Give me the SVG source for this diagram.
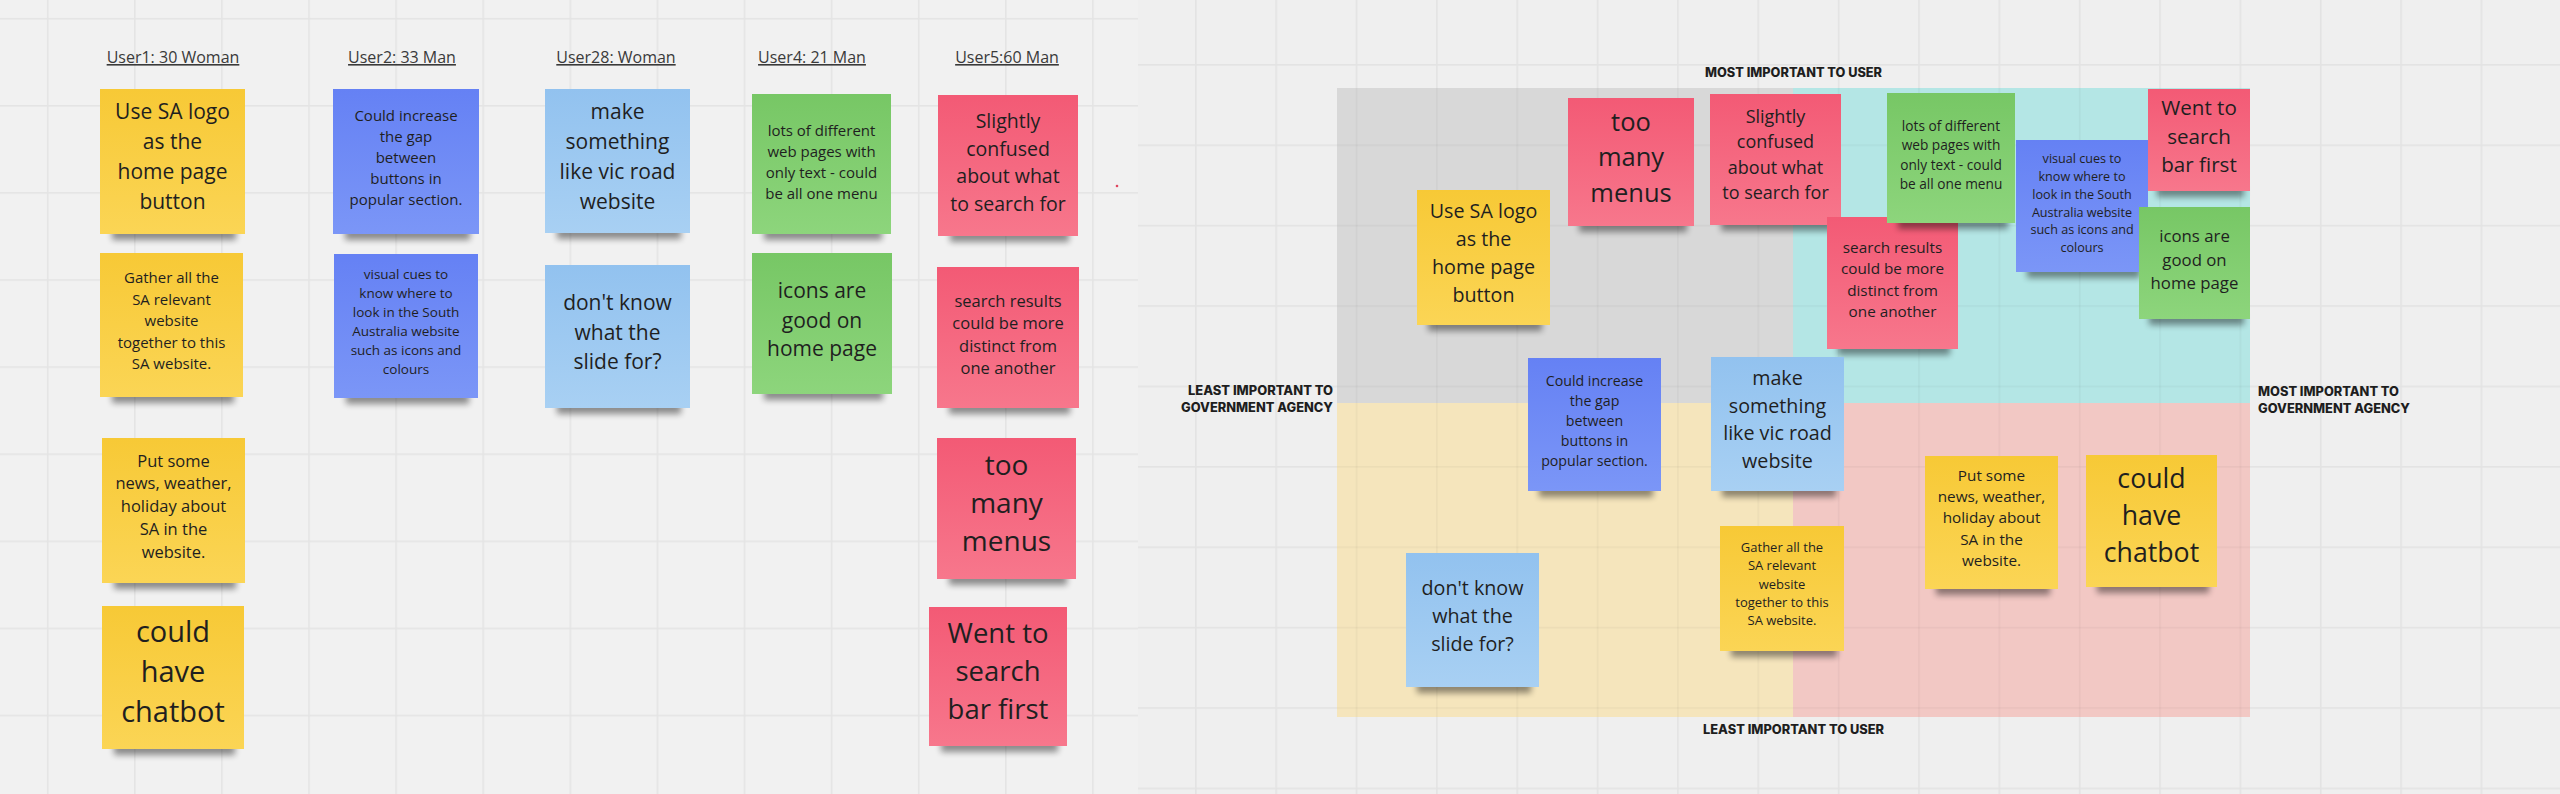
<svg xmlns="http://www.w3.org/2000/svg" width="2560" height="794" viewBox="0 0 2560 794">
<defs>
<style>
.h{font-family:"Open Sans","Liberation Sans",sans-serif;font-size:16px;fill:#3a3a3a;text-anchor:middle;text-decoration:underline}
.t{font-family:"Open Sans","Liberation Sans",sans-serif;fill:#1f1f1f;text-anchor:middle}
.ax{font-family:Inter,"Liberation Sans",sans-serif;font-weight:800;font-size:12.5px;fill:#1e1e1e}
.sh{fill:#000;opacity:.42;filter:url(#blur)}
.y{fill:url(#gy)}.b{fill:url(#gb)}.lb{fill:url(#glb)}.g{fill:url(#gg)}.r{fill:url(#gr)}
</style>
<filter id="blur" x="-20%" y="-100%" width="140%" height="300%"><feGaussianBlur stdDeviation="3"/></filter>
<linearGradient id="gy" x1="0" y1="0" x2="0" y2="1"><stop offset="0" stop-color="#f7c936"/><stop offset="1" stop-color="#fbd555"/></linearGradient>
<linearGradient id="gb" x1="0" y1="0" x2="0" y2="1"><stop offset="0" stop-color="#6581f4"/><stop offset="1" stop-color="#7b96f7"/></linearGradient>
<linearGradient id="glb" x1="0" y1="0" x2="0" y2="1"><stop offset="0" stop-color="#92c2ef"/><stop offset="1" stop-color="#a8d0f3"/></linearGradient>
<linearGradient id="gg" x1="0" y1="0" x2="0" y2="1"><stop offset="0" stop-color="#77c765"/><stop offset="1" stop-color="#8dd57c"/></linearGradient>
<linearGradient id="gr" x1="0" y1="0" x2="0" y2="1"><stop offset="0" stop-color="#f35a75"/><stop offset="1" stop-color="#f7778c"/></linearGradient>
<pattern id="gl" patternUnits="userSpaceOnUse" x="46.9" y="17.9" width="87.1" height="87.1"><rect width="87.1" height="87.1" fill="#f1f1f1"/><rect width="1.6" height="87.1" fill="#e4e4e4"/><rect width="87.1" height="1.6" fill="#e4e4e4"/></pattern>
<pattern id="gr2" patternUnits="userSpaceOnUse" x="1195" y="64" width="80.35" height="80.4"><rect width="80.35" height="80.4" fill="#efefef"/><rect width="1.6" height="80.4" fill="#e3e3e3"/><rect width="80.35" height="1.6" fill="#e3e3e3"/></pattern>
<pattern id="gq" patternUnits="userSpaceOnUse" x="1195" y="64" width="80.35" height="80.4"><rect width="1.6" height="80.4" fill="#000" fill-opacity="0.035"/><rect width="80.35" height="1.6" fill="#000" fill-opacity="0.035"/></pattern>
</defs>

<rect id="bg-left" x="0" y="0" width="1138" height="794" fill="url(#gl)"/>
<rect id="bg-right" x="1138" y="0" width="1422" height="794" fill="url(#gr2)"/>
<circle cx="1117" cy="186" r="1.3" fill="#e0455e"/>

<g id="headings">
<text class="h" x="173" y="63">User1: 30 Woman</text>
<text class="h" x="402" y="63">User2: 33 Man</text>
<text class="h" x="616" y="63">User28: Woman</text>
<text class="h" x="812" y="63">User4: 21 Man</text>
<text class="h" x="1007" y="63">User5:60 Man</text>
</g>

<g id="quadrants">
<rect x="1337" y="88" width="456" height="315" fill="#d8d8d8"/>
<rect x="1793" y="88" width="457" height="315" fill="#b4e6e5"/>
<rect x="1337" y="403" width="456" height="314" fill="#f5e5bc"/>
<rect x="1793" y="403" width="457" height="314" fill="#f2c8c4"/>
<rect x="1337" y="88" width="913" height="629" fill="url(#gq)"/>
</g>

<g id="axis-labels">
<text class="ax" x="1705" y="77" textLength="177" lengthAdjust="spacingAndGlyphs">MOST IMPORTANT TO USER</text>
<text class="ax" x="1703" y="734" textLength="181" lengthAdjust="spacingAndGlyphs">LEAST IMPORTANT TO USER</text>
<text class="ax" x="1188" y="395" textLength="145" lengthAdjust="spacingAndGlyphs">LEAST IMPORTANT TO</text>
<text class="ax" x="1181" y="412" textLength="152" lengthAdjust="spacingAndGlyphs">GOVERNMENT AGENCY</text>
<text class="ax" x="2258" y="396" textLength="141" lengthAdjust="spacingAndGlyphs">MOST IMPORTANT TO</text>
<text class="ax" x="2258" y="413" textLength="152" lengthAdjust="spacingAndGlyphs">GOVERNMENT AGENCY</text>
</g>

<g id="connectors"></g>

<!-- Left: user columns -->
<g id="l1-use-sa-logo"><rect class="sh" x="112" y="228" width="124" height="12"/><rect class="y" x="100" y="89" width="145" height="145"/>
<text class="t" font-size="21"><tspan x="172.5" y="119">Use SA logo</tspan><tspan x="172.5" y="149">as the</tspan><tspan x="172.5" y="179">home page</tspan><tspan x="172.5" y="209">button</tspan></text></g>
<g id="l2-gather"><rect class="sh" x="112" y="391" width="122" height="12"/><rect class="y" x="100" y="253" width="143" height="144"/>
<text class="t" font-size="15"><tspan x="171.5" y="283">Gather all the</tspan><tspan x="171.5" y="304.5">SA relevant</tspan><tspan x="171.5" y="326">website</tspan><tspan x="171.5" y="347.5">together to this</tspan><tspan x="171.5" y="369">SA website.</tspan></text></g>
<g id="l3-put-some-news"><rect class="sh" x="114" y="577" width="122" height="12"/><rect class="y" x="102" y="438" width="143" height="145"/>
<text class="t" font-size="16.5"><tspan x="173.5" y="466.5">Put some</tspan><tspan x="173.5" y="489.4">news, weather,</tspan><tspan x="173.5" y="512.3">holiday about</tspan><tspan x="173.5" y="535.2">SA in the</tspan><tspan x="173.5" y="558">website.</tspan></text></g>
<g id="l4-chatbot"><rect class="sh" x="114" y="743" width="121" height="12"/><rect class="y" x="102" y="606" width="142" height="143"/>
<text class="t" font-size="29"><tspan x="173" y="641.5">could</tspan><tspan x="173" y="681.8">have</tspan><tspan x="173" y="722">chatbot</tspan></text></g>

<g id="l5-could-increase"><rect class="sh" x="345" y="228" width="125" height="12"/><rect class="b" x="333" y="89" width="146" height="145"/>
<text class="t" font-size="15"><tspan x="406" y="121">Could increase</tspan><tspan x="406" y="142">the gap</tspan><tspan x="406" y="163">between</tspan><tspan x="406" y="184">buttons in</tspan><tspan x="406" y="205">popular section.</tspan></text></g>
<g id="l6-visual-cues"><rect class="sh" x="346" y="392" width="123" height="12"/><rect class="b" x="334" y="254" width="144" height="144"/>
<text class="t" font-size="13.5"><tspan x="406" y="279">visual cues to</tspan><tspan x="406" y="298">know where to</tspan><tspan x="406" y="317">look in the South</tspan><tspan x="406" y="336">Australia website</tspan><tspan x="406" y="355">such as icons and</tspan><tspan x="406" y="374">colours</tspan></text></g>

<g id="l7-make-something"><rect class="sh" x="557" y="227" width="124" height="12"/><rect class="lb" x="545" y="89" width="145" height="144"/>
<text class="t" font-size="21"><tspan x="617.5" y="118.5">make</tspan><tspan x="617.5" y="148.5">something</tspan><tspan x="617.5" y="178.5">like vic road</tspan><tspan x="617.5" y="208.5">website</tspan></text></g>
<g id="l8-dont-know"><rect class="sh" x="557" y="402" width="124" height="12"/><rect class="lb" x="545" y="265" width="145" height="143"/>
<text class="t" font-size="21"><tspan x="617.5" y="310">don't know</tspan><tspan x="617.5" y="340">what the</tspan><tspan x="617.5" y="369">slide for?</tspan></text></g>

<g id="l9-lots-of-pages"><rect class="sh" x="764" y="228" width="118" height="12"/><rect class="g" x="752" y="94" width="139" height="140"/>
<text class="t" font-size="15"><tspan x="821.5" y="135.5">lots of different</tspan><tspan x="821.5" y="156.5">web pages with</tspan><tspan x="821.5" y="177.5">only text - could</tspan><tspan x="821.5" y="198.5">be all one menu</tspan></text></g>
<g id="l10-icons-good"><rect class="sh" x="764" y="388" width="119" height="12"/><rect class="g" x="752" y="253" width="140" height="141"/>
<text class="t" font-size="21"><tspan x="822" y="298">icons are</tspan><tspan x="822" y="327.5">good on</tspan><tspan x="822" y="356">home page</tspan></text></g>

<g id="l11-slightly-confused"><rect class="sh" x="950" y="230" width="119" height="12"/><rect class="r" x="938" y="95" width="140" height="141"/>
<text class="t" font-size="19.5"><tspan x="1008" y="128">Slightly</tspan><tspan x="1008" y="155.5">confused</tspan><tspan x="1008" y="183">about what</tspan><tspan x="1008" y="210.5">to search for</tspan></text></g>
<g id="l12-search-results"><rect class="sh" x="949" y="402" width="121" height="12"/><rect class="r" x="937" y="267" width="142" height="141"/>
<text class="t" font-size="16.5"><tspan x="1008" y="306.5">search results</tspan><tspan x="1008" y="329">could be more</tspan><tspan x="1008" y="351.5">distinct from</tspan><tspan x="1008" y="374">one another</tspan></text></g>
<g id="l13-too-many-menus"><rect class="sh" x="949" y="573" width="118" height="12"/><rect class="r" x="937" y="438" width="139" height="141"/>
<text class="t" font-size="28"><tspan x="1006.5" y="475">too</tspan><tspan x="1006.5" y="513">many</tspan><tspan x="1006.5" y="551">menus</tspan></text></g>
<g id="l14-went-to-search"><rect class="sh" x="941" y="740" width="117" height="12"/><rect class="r" x="929" y="607" width="138" height="139"/>
<text class="t" font-size="27.5"><tspan x="998" y="643">Went to</tspan><tspan x="998" y="681">search</tspan><tspan x="998" y="719">bar first</tspan></text></g>

<!-- Right: prioritisation matrix -->
<g id="r1-use-sa-logo"><rect class="sh" x="1428" y="319" width="114" height="12"/><rect class="y" x="1417" y="190" width="133" height="135"/>
<text class="t" font-size="19.7"><tspan x="1483.5" y="218">Use SA logo</tspan><tspan x="1483.5" y="246">as the</tspan><tspan x="1483.5" y="274">home page</tspan><tspan x="1483.5" y="301.5">button</tspan></text></g>
<g id="r2-too-many-menus"><rect class="sh" x="1579" y="220" width="108" height="12"/><rect class="r" x="1568" y="98" width="126" height="128"/>
<text class="t" font-size="25.5"><tspan x="1631" y="130.5">too</tspan><tspan x="1631" y="166">many</tspan><tspan x="1631" y="201.5">menus</tspan></text></g>
<g id="r3-slightly-confused"><rect class="sh" x="1721" y="219" width="112" height="12"/><rect class="r" x="1710" y="94" width="131" height="131"/>
<text class="t" font-size="18"><tspan x="1775.5" y="122.5">Slightly</tspan><tspan x="1775.5" y="148">confused</tspan><tspan x="1775.5" y="173.5">about what</tspan><tspan x="1775.5" y="199">to search for</tspan></text></g>
<g id="r8-search-results"><rect class="sh" x="1838" y="343" width="112" height="12"/><rect class="r" x="1827" y="217" width="131" height="132"/>
<text class="t" font-size="15.3"><tspan x="1892.5" y="252.5">search results</tspan><tspan x="1892.5" y="274">could be more</tspan><tspan x="1892.5" y="295.5">distinct from</tspan><tspan x="1892.5" y="317">one another</tspan></text></g>
<g id="r4-lots-of-pages"><rect class="sh" x="1898" y="217" width="110" height="12"/><rect class="g" x="1887" y="93" width="128" height="130"/>
<text class="t" font-size="13.7"><tspan x="1951" y="130.5">lots of different</tspan><tspan x="1951" y="150">web pages with</tspan><tspan x="1951" y="169.5">only text - could</tspan><tspan x="1951" y="189">be all one menu</tspan></text></g>
<g id="r5-visual-cues"><rect class="sh" x="2027" y="266" width="113" height="12"/><rect class="b" x="2016" y="140" width="132" height="132"/>
<text class="t" font-size="12.6"><tspan x="2082" y="162.5">visual cues to</tspan><tspan x="2082" y="180.5">know where to</tspan><tspan x="2082" y="198.5">look in the South</tspan><tspan x="2082" y="216.5">Australia website</tspan><tspan x="2082" y="234">such as icons and</tspan><tspan x="2082" y="252">colours</tspan></text></g>
<g id="r6-went-to-search"><rect class="sh" x="2157" y="185" width="87" height="12"/><rect class="r" x="2148" y="89" width="102" height="102"/>
<text class="t" font-size="20.6"><tspan x="2199" y="115">Went to</tspan><tspan x="2199" y="143.5">search</tspan><tspan x="2199" y="172">bar first</tspan></text></g>
<g id="r7-icons-good"><rect class="sh" x="2149" y="313" width="95" height="12"/><rect class="g" x="2139" y="207" width="111" height="112"/>
<text class="t" font-size="16.8"><tspan x="2194.5" y="242">icons are</tspan><tspan x="2194.5" y="265.5">good on</tspan><tspan x="2194.5" y="289">home page</tspan></text></g>
<g id="r9-could-increase"><rect class="sh" x="1539" y="485" width="114" height="12"/><rect class="b" x="1528" y="358" width="133" height="133"/>
<text class="t" font-size="14.2"><tspan x="1594.5" y="386">Could increase</tspan><tspan x="1594.5" y="406">the gap</tspan><tspan x="1594.5" y="425.5">between</tspan><tspan x="1594.5" y="446">buttons in</tspan><tspan x="1594.5" y="465.5">popular section.</tspan></text></g>
<g id="r10-make-something"><rect class="sh" x="1722" y="485" width="114" height="12"/><rect class="lb" x="1711" y="357" width="133" height="134"/>
<text class="t" font-size="19.7"><tspan x="1777.5" y="385">make</tspan><tspan x="1777.5" y="413">something</tspan><tspan x="1777.5" y="440">like vic road</tspan><tspan x="1777.5" y="468">website</tspan></text></g>
<g id="r11-gather"><rect class="sh" x="1731" y="645" width="106" height="12"/><rect class="y" x="1720" y="526" width="124" height="125"/>
<text class="t" font-size="13"><tspan x="1782" y="552">Gather all the</tspan><tspan x="1782" y="570">SA relevant</tspan><tspan x="1782" y="588.5">website</tspan><tspan x="1782" y="607">together to this</tspan><tspan x="1782" y="625">SA website.</tspan></text></g>
<g id="r12-dont-know"><rect class="sh" x="1417" y="681" width="114" height="12"/><rect class="lb" x="1406" y="553" width="133" height="134"/>
<text class="t" font-size="19.7"><tspan x="1472.5" y="595">don't know</tspan><tspan x="1472.5" y="622.5">what the</tspan><tspan x="1472.5" y="650.5">slide for?</tspan></text></g>
<g id="r13-put-some-news"><rect class="sh" x="1936" y="583" width="114" height="12"/><rect class="y" x="1925" y="456" width="133" height="133"/>
<text class="t" font-size="15.3"><tspan x="1991.5" y="481">Put some</tspan><tspan x="1991.5" y="502">news, weather,</tspan><tspan x="1991.5" y="523">holiday about</tspan><tspan x="1991.5" y="544.5">SA in the</tspan><tspan x="1991.5" y="566">website.</tspan></text></g>
<g id="r14-chatbot"><rect class="sh" x="2097" y="581" width="112" height="12"/><rect class="y" x="2086" y="455" width="131" height="132"/>
<text class="t" font-size="26.7"><tspan x="2151.5" y="488">could</tspan><tspan x="2151.5" y="525">have</tspan><tspan x="2151.5" y="562">chatbot</tspan></text></g>
</svg>
